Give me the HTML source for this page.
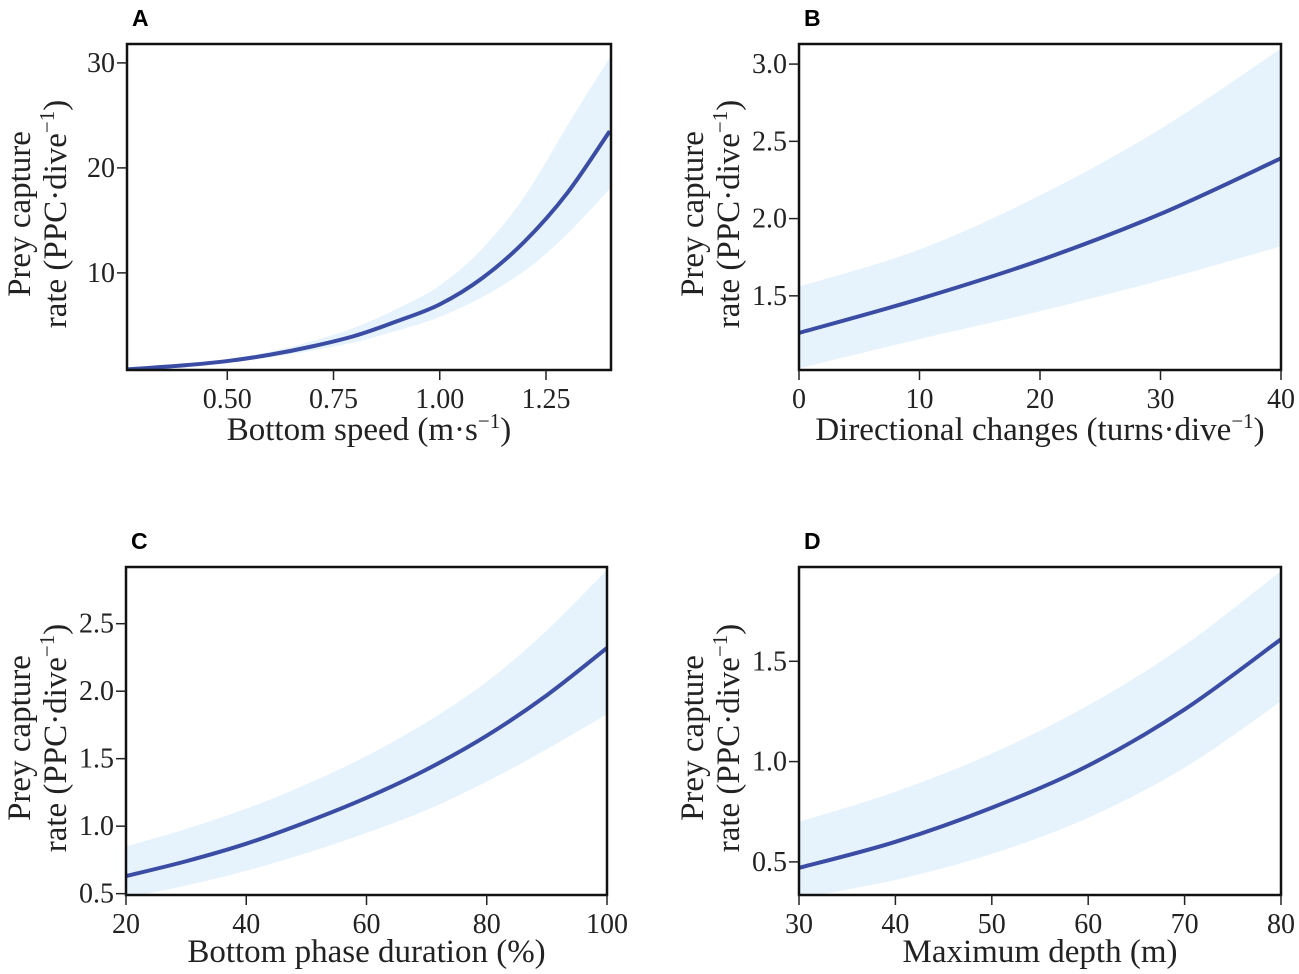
<!DOCTYPE html>
<html><head><meta charset="utf-8"><style>
body{margin:0;background:#fff}
svg{display:block}
.tk{font-family:"Liberation Serif",serif;font-size:28px;fill:#222}
.ttl{font-family:"Liberation Serif",serif;font-size:33px;fill:#222}
.lt{font-family:"Liberation Sans",sans-serif;font-weight:bold;font-size:23px;fill:#000}
</style></head><body>
<svg id="c" width="1299" height="974" xmlns="http://www.w3.org/2000/svg"></svg>
<script>
// Panel A
const aX=[0.264,0.4,0.5,0.6,0.7,0.8,0.9,1.0,1.1,1.2,1.3,1.4];
const aFit=[0.8,1.2,1.6,2.2,3.0,4.0,5.4,7.0,9.5,13.0,17.6,23.5];
const aUp=[0.85,1.3,1.75,2.5,3.5,4.8,6.6,8.8,12.3,17.3,24.0,30.5];
const aLo=[0.75,1.1,1.45,1.95,2.6,3.4,4.5,5.8,7.7,10.2,13.7,18.0];
const aXT=[0.5,0.75,1.0,1.25];const aXL=["0.50","0.75","1.00","1.25"];
const aYT=[10,20,30];const aYL=["10","20","30"];
// Panel B
const bX=[0,10,20,30,40];
const bFit=[1.26,1.48,1.73,2.03,2.39];
const bUp=[1.56,1.80,2.15,2.58,3.10];
const bLo=[1.03,1.22,1.40,1.60,1.82];
const bXT=[0,10,20,30,40];const bXL=["0","10","20","30","40"];
const bYT=[1.5,2.0,2.5,3.0];const bYL=["1.5","2.0","2.5","3.0"];
// Panel C
const cX=[20,30,40,50,60,70,80,90,100];
const cFit=[0.63,0.74,0.87,1.03,1.21,1.42,1.67,1.97,2.32];
const cUp=[0.85,0.98,1.13,1.31,1.52,1.77,2.07,2.45,2.90];
const cLo=[0.47,0.56,0.67,0.80,0.95,1.12,1.33,1.57,1.83];
const cXT=[20,40,60,80,100];const cXL=["20","40","60","80","100"];
const cYT=[0.5,1.0,1.5,2.0,2.5];const cYL=["0.5","1.0","1.5","2.0","2.5"];
// Panel D
const dX=[30,40,50,60,70,80];
const dFit=[0.47,0.60,0.77,0.98,1.26,1.61];
const dUp=[0.70,0.85,1.04,1.28,1.58,1.95];
const dLo=[0.32,0.41,0.54,0.72,0.97,1.30];
const dXT=[30,40,50,60,70,80];const dXL=["30","40","50","60","70","80"];
const dYT=[0.5,1.0,1.5];const dYL=["0.5","1.0","1.5"];

const NS="http://www.w3.org/2000/svg";
const svg=document.getElementById('c');
function mk(t,a,p){const e=document.createElementNS(NS,t);for(const k in a)e.setAttribute(k,a[k]);(p||svg).appendChild(e);return e;}
function smooth(P,start){
  let d=(start?'M':'L')+P[0][0]+','+P[0][1];
  for(let i=0;i<P.length-1;i++){
    const p0=P[Math.max(i-1,0)],p1=P[i],p2=P[i+1],p3=P[Math.min(i+2,P.length-1)];
    const c1=[p1[0]+(p2[0]-p0[0])/6,p1[1]+(p2[1]-p0[1])/6];
    const c2=[p2[0]-(p3[0]-p1[0])/6,p2[1]-(p3[1]-p1[1])/6];
    d+='C'+c1+' '+c2+' '+p2;
  }
  return d;
}

function panel(id,letter,box,xd,yd,X,F,U,L,xt,xl,yt,yl,xtitle,xsup,xend,ytx,xtitleY){
  const g=mk('g',{});
  
  
  const [x0,x1,y0,y1]=box;
  const sx=v=>x0+(v-xd[0])/(xd[1]-xd[0])*(x1-x0);
  const sy=v=>y1-(v-yd[0])/(yd[1]-yd[0])*(y1-y0);
  const cp=mk('clipPath',{id:'cp'+id},g);
  mk('rect',{x:x0,y:y0,width:x1-x0,height:y1-y0},cp);
  const up=X.map((x,i)=>[sx(x),sy(U[i])]);
  const lo=X.map((x,i)=>[sx(x),sy(L[i])]).reverse();
  const band=mk('path',{d:smooth(up,true)+smooth(lo,false)+'Z',fill:'#e6f3fc','clip-path':'url(#cp'+id+')'},g);
  
  
  const fp=X.map((x,i)=>[sx(x),sy(F[i])]);
  const line=mk('path',{d:smooth(fp,true),fill:'none',stroke:'#3a4ca3','stroke-width':4,'clip-path':'url(#cp'+id+')'},g);
  
  
  const fr=mk('rect',{x:x0,y:y0,width:x1-x0,height:y1-y0,fill:'none',stroke:'#111','stroke-width':2.5},g);
  
  
  xt.forEach((v,i)=>{const x=sx(v);
    mk('line',{x1:x,x2:x,y1:y1,y2:y1+10,stroke:'#222','stroke-width':1.5},g);
    const t=mk('text',{x:x,y:y1+38,'text-anchor':'middle',class:'tk'},g);t.textContent=xl[i];
    
    });
  yt.forEach((v,i)=>{const y=sy(v);
    mk('line',{x1:x0-10,x2:x0,y1:y,y2:y,stroke:'#222','stroke-width':1.5},g);
    const t=mk('text',{x:x0-12,y:y+9,'text-anchor':'end',class:'tk'},g);t.textContent=yl[i];
    
    });
  const lt=mk('text',{x:x0+5,y:y0-18,class:'lt'},g);lt.textContent=letter;
  
  
  const xtt=mk('text',{x:(x0+x1)/2,y:xtitleY,'text-anchor':'middle',class:'ttl'},g);
  xtt.innerHTML=xtitle+(xsup?'<tspan dy="-12" font-size="21">−1</tspan><tspan dy="12">'+xend+'</tspan>':'');
  
  
  const cy=(y0+y1)/2+7;
  const y1t=mk('text',{transform:`translate(${ytx},${cy}) rotate(-90)`,'text-anchor':'middle',class:'ttl'},g);
  y1t.textContent='Prey capture';
  
  
  const y2t=mk('text',{transform:`translate(${ytx+36},${cy}) rotate(-90)`,'text-anchor':'middle',class:'ttl'},g);
  y2t.innerHTML='rate (PPC·dive<tspan dy="-12" font-size="21">−1</tspan><tspan dy="12">)</tspan>';
  
  
}
panel('a','A',[127,611,44,370],[0.264,1.403],[0.75,31.8],aX,aFit,aUp,aLo,aXT,aXL,aYT,aYL,'Bottom speed (m·s','1',')',30,440);
panel('b','B',[799,1281,44,370],[0,40],[1.02,3.13],bX,bFit,bUp,bLo,bXT,bXL,bYT,bYL,'Directional changes (turns·dive','1',')',703,440);
panel('c','C',[126,607,567,895],[20,100],[0.49,2.92],cX,cFit,cUp,cLo,cXT,cXL,cYT,cYL,'Bottom phase duration (%)','', '',30,962);
panel('d','D',[799,1281,567,895],[30,80],[0.335,1.97],dX,dFit,dUp,dLo,dXT,dXL,dYT,dYL,'Maximum depth (m)','','',703,962);
</script>
</body></html>
